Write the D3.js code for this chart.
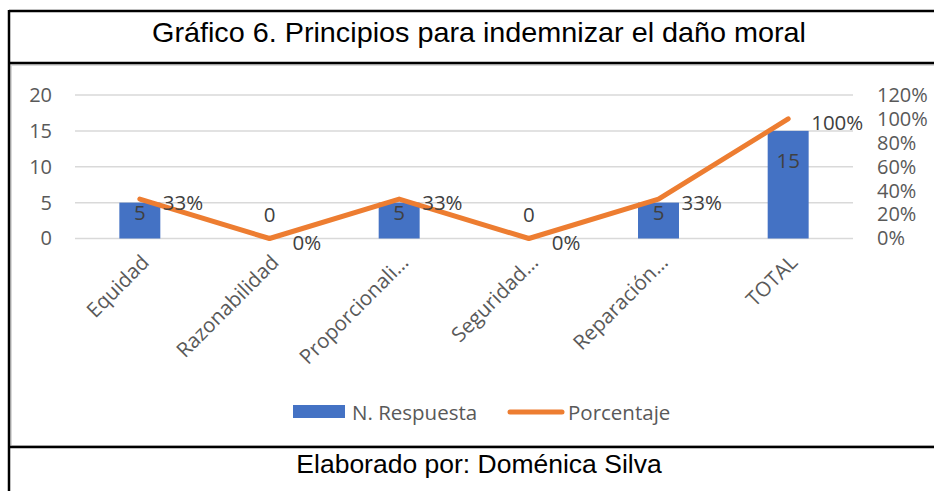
<!DOCTYPE html>
<html>
<head>
<meta charset="utf-8">
<script src="https://cdn.jsdelivr.net/npm/d3@7"></script>
<style>
  html, body { margin: 0; padding: 0; background: #fff; }
  svg { display: block; }
</style>
</head>
<body>
<svg id="chart" width="934" height="491"></svg>
<script>
const categories = ["Equidad", "Razonabilidad", "Proporcionali…", "Seguridad…", "Reparación…", "TOTAL"];
const respuestas = [5, 0, 5, 0, 5, 15];
const porcentajes = [0.33, 0, 0.33, 0, 0.33, 1.00];
const porcentajeLabels = ["33%", "0%", "33%", "0%", "33%", "100%"];
const leftTicks = [0, 5, 10, 15, 20];
const rightTicks = [0, 0.2, 0.4, 0.6, 0.8, 1.0, 1.2];
const titleText = "Gráfico 6. Principios para indemnizar el daño moral";
const footerText = "Elaborado por: Doménica Silva";
const legendNames = ["N. Respuesta", "Porcentaje"];

const svg = d3.select("#chart");
const blue = "#4472C4", orange = "#ED7D31", grid = "#d9d9d9", txt = "#595959";
const font = "'Open Sans', 'Segoe UI', sans-serif";

// Frame
svg.append("rect").attr("x", 11).attr("y", 65).attr("width", 930).attr("height", 381)
  .attr("fill", "none").attr("stroke", "#d9d9d9").attr("stroke-width", 2);
svg.append("line").attr("x1", 9).attr("x2", 934).attr("y1", 11).attr("y2", 11).attr("stroke", "#000").attr("stroke-width", 2.5);
svg.append("line").attr("x1", 9).attr("x2", 934).attr("y1", 63).attr("y2", 63).attr("stroke", "#000").attr("stroke-width", 2.5);
svg.append("line").attr("x1", 9).attr("x2", 934).attr("y1", 447).attr("y2", 447).attr("stroke", "#000").attr("stroke-width", 2.5);
svg.append("line").attr("x1", 9).attr("x2", 9).attr("y1", 10).attr("y2", 491).attr("stroke", "#000").attr("stroke-width", 2.5);

svg.append("text").attr("x", 479).attr("y", 32).attr("text-anchor", "middle").attr("dominant-baseline", "central")
  .attr("font-family", "'Liberation Sans', Arial, sans-serif").attr("font-size", 28.5).attr("fill", "#000")
  .attr("textLength", 654).attr("lengthAdjust", "spacingAndGlyphs").text(titleText);
svg.append("text").attr("x", 479).attr("y", 464).attr("text-anchor", "middle").attr("dominant-baseline", "central")
  .attr("font-family", "'Liberation Sans', Arial, sans-serif").attr("font-size", 26.5).attr("fill", "#000").text(footerText);

// Scales
const x = d3.scaleBand().domain(categories).range([75, 853]).padding(0);
const yL = d3.scaleLinear().domain([0, 20]).range([238.5, 95]);
const yR = d3.scaleLinear().domain([0, 1.2]).range([238.5, 95]);
const cx = c => x(c) + x.bandwidth() / 2;
const barW = x.bandwidth() * 0.316;

// Gridlines
svg.append("g").selectAll("line").data(leftTicks).join("line")
  .attr("x1", 75).attr("x2", 853).attr("y1", d => yL(d)).attr("y2", d => yL(d))
  .attr("stroke", grid).attr("stroke-width", 1.5);

// Left axis
const gl = svg.append("g").attr("transform", "translate(75,0)")
  .call(d3.axisLeft(yL).tickValues(leftTicks).tickSize(0).tickPadding(23));
gl.select(".domain").remove();
gl.selectAll("text").attr("font-family", font).attr("font-size", 20).attr("fill", txt);

// Right axis
const gr = svg.append("g").attr("transform", "translate(853,0)")
  .call(d3.axisRight(yR).tickValues(rightTicks).tickFormat(d3.format(".0%")).tickSize(0).tickPadding(24));
gr.select(".domain").remove();
gr.selectAll("text").attr("font-family", font).attr("font-size", 20).attr("fill", txt);

// Bars
svg.append("g").selectAll("rect").data(categories).join("rect")
  .attr("x", c => cx(c) - barW / 2).attr("width", barW)
  .attr("y", (c, i) => yL(respuestas[i])).attr("height", (c, i) => yL(0) - yL(respuestas[i]))
  .attr("fill", blue);

// Bar labels
svg.append("g").selectAll("text").data(categories).join("text")
  .attr("x", c => cx(c))
  .attr("y", (c, i) => respuestas[i] === 0 ? yL(0) - 25 : yL(respuestas[i] * 0.73))
  .attr("text-anchor", "middle").attr("dominant-baseline", "central")
  .attr("font-family", font).attr("font-size", 20.5).attr("fill", "#404040")
  .text((c, i) => respuestas[i]);

// Line
const line = d3.line().x((d, i) => cx(categories[i])).y(d => yR(d));
svg.append("path").datum(porcentajes).attr("d", line)
  .attr("fill", "none").attr("stroke", orange).attr("stroke-width", 5)
  .attr("stroke-linecap", "round").attr("stroke-linejoin", "round");

// Line labels
svg.append("g").selectAll("text").data(categories).join("text")
  .attr("x", c => cx(c) + 23)
  .attr("y", (c, i) => yR(porcentajes[i]) + 3)
  .attr("dominant-baseline", "central")
  .attr("font-family", font).attr("font-size", 20.5).attr("fill", "#404040")
  .text((c, i) => porcentajeLabels[i]);

// Category labels
svg.append("g").selectAll("text").data(categories).join("text")
  .attr("transform", c => `translate(${cx(c) + 5},${258}) rotate(-45)`)
  .attr("text-anchor", "end").attr("dominant-baseline", "central")
  .attr("font-family", font).attr("font-size", 20.5).attr("fill", txt)
  .text(c => c);

// Legend
const lg = svg.append("g");
lg.append("rect").attr("x", 293).attr("y", 405).attr("width", 52).attr("height", 13).attr("fill", blue);
lg.append("text").attr("x", 352).attr("y", 412).attr("dominant-baseline", "central")
  .attr("font-family", font).attr("font-size", 20.5).attr("fill", txt).text(legendNames[0]);
lg.append("line").attr("x1", 510).attr("x2", 562).attr("y1", 412).attr("y2", 412)
  .attr("stroke", orange).attr("stroke-width", 5).attr("stroke-linecap", "round");
lg.append("text").attr("x", 568).attr("y", 412).attr("dominant-baseline", "central")
  .attr("font-family", font).attr("font-size", 20.5).attr("fill", txt).text(legendNames[1]);
</script>
</body>
</html>
